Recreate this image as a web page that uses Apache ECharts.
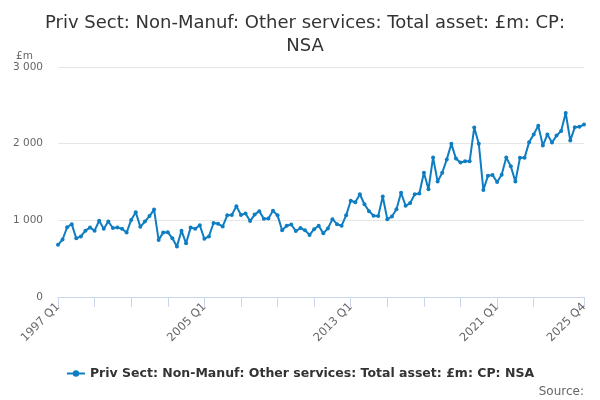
<!DOCTYPE html>
<html>
<head>
<meta charset="UTF-8">
<title>Priv Sect: Non-Manuf: Other services: Total asset</title>
<script type="text/javascript" src="https://cdn.jsdelivr.net/npm/echarts@6/dist/echarts.min.js"></script>
<style>
  html, body { margin: 0; padding: 0; background: #fff; }
</style>
</head>
<body>
<div id="main" style="width:600px;height:400px"></div>
<script type="text/javascript">
// quarters 1997 Q1 .. 2025 Q4
var firstYear = 1997, lastYear = 2025;
var quarters = [];
for (var y = firstYear; y <= lastYear; y++) {
  for (var q = 1; q <= 4; q++) quarters.push(y + ' Q' + q);
}

// £m
var totalAsset = [
  680, 750, 910, 950, 765, 790, 865, 905, 865, 995, 890, 985,
  900, 905, 890, 840, 1005, 1105, 915, 985, 1055, 1140, 745, 840,
  845, 765, 660, 865, 700, 905, 890, 935, 760, 790, 965, 955,
  920, 1065, 1070, 1185, 1070, 1090, 990, 1075, 1120, 1020, 1025, 1125,
  1065, 870, 930, 945, 860, 900, 870, 810, 885, 930, 830, 895,
  1015, 950, 930, 1065, 1255, 1235, 1340, 1210, 1120, 1060, 1055, 1310,
  1015, 1050, 1145, 1360, 1190, 1225, 1340, 1350, 1620, 1405, 1820, 1505,
  1620, 1795, 2000, 1805, 1755, 1770, 1770, 2210, 2000, 1395, 1580, 1590,
  1500, 1595, 1820, 1705, 1505, 1815, 1815, 2020, 2120, 2235, 1975, 2120,
  2015, 2105, 2165, 2400, 2040, 2215, 2220, 2250
];

var seriesName = 'Priv Sect: Non-Manuf: Other services: Total asset: £m: CP: NSA';
var lastIdx = quarters.length - 1;

var myChart = echarts.init(document.getElementById('main'));

var option = {
  animation: false,
  backgroundColor: '#ffffff',
  textStyle: { fontFamily: 'DejaVu Sans' },
  title: [
    {
      text: 'Priv Sect: Non-Manuf: Other services: Total asset: £m: CP:\nNSA',
      left: 300,
      top: 7,
      textAlign: 'center',
      textStyle: { fontSize: 18, fontWeight: 'normal', color: '#333333', lineHeight: 23, fontFamily: 'DejaVu Sans' }
    },
    {
      text: '£m',
      left: 11,
      top: 46,
      textStyle: { fontSize: 10.5, fontWeight: 'normal', color: '#666666' }
    },
    {
      text: 'Source:',
      right: 11,
      top: 381,
      textStyle: { fontSize: 12, fontWeight: 'normal', color: '#666666' }
    }
  ],
  legend: {
    bottom: 15,
    left: 'center',
    itemWidth: 18,
    itemHeight: 8,
    textStyle: { fontSize: 12.5, fontWeight: 'bold', color: '#333333' },
    data: [seriesName]
  },
  grid: { left: 58, right: 16, top: 67, bottom: 103, containLabel: false },
  xAxis: {
    type: 'category',
    data: quarters,
    boundaryGap: false,
    axisLine: { lineStyle: { color: '#ccd6eb' } },
    axisTick: {
      length: 10,
      lineStyle: { color: '#ccd6eb' },
      interval: function (i) { return (i % 8 === 0 && i !== 112) || i === lastIdx; }
    },
    axisLabel: {
      rotate: 45,
      color: '#666666',
      fontSize: 11.5,
      margin: 8,
      interval: function (i) { return i % 32 === 0 || i === lastIdx; }
    }
  },
  yAxis: {
    type: 'value',
    min: 0,
    max: 3000,
    interval: 1000,
    axisLine: { show: false },
    axisTick: { show: false },
    splitLine: { lineStyle: { color: '#e6e6e6' } },
    axisLabel: {
      color: '#666666',
      fontSize: 10.5,
      margin: 15,
      formatter: function (v) { return String(v).replace(/\B(?=(\d{3})+(?!\d))/g, ' '); }
    }
  },
  series: [
    {
      name: seriesName,
      type: 'line',
      data: totalAsset,
      symbol: 'circle',
      symbolSize: 4,
      showAllSymbol: true,
      lineStyle: { width: 2, color: '#0f7dc2' },
      itemStyle: { color: '#0f7dc2' }
    }
  ]
};

myChart.setOption(option);
</script>
</body>
</html>
